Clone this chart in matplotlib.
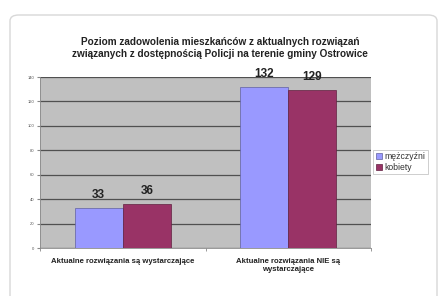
import numpy as np
import matplotlib
matplotlib.use("Agg")
import matplotlib.pyplot as plt
from matplotlib.patches import FancyBboxPatch

plt.rcParams['font.family'] = ['Liberation Sans', 'DejaVu Sans']

############################################
# DATA
############################################

TITLE = ("Poziom zadowolenia mieszkańców z aktualnych rozwiązań\n"
         "związanych z dostępnością Policji na terenie gminy Ostrowice")

categories = ["Aktualne rozwiązania są wystarczające",
              "Aktualne rozwiązania NIE są\nwystarczające"]
series_names = ["mężczyźni", "kobiety"]
men = [33, 132]
women = [36, 129]
yticks = [0, 20, 40, 60, 80, 100, 120, 140]

COLORS = ["#9999FF", "#993366"]

############################################
# PLOT
############################################

fig = plt.figure(figsize=(4.4, 2.96), dpi=100)
fig.patch.set_facecolor("white")

# rounded frame round the chart
frame = FancyBboxPatch((10 / 440, -0.05), 427 / 440, 1 - 15 / 296 + 0.05,
                       boxstyle="round,pad=0,rounding_size=0.02",
                       transform=fig.transFigure, facecolor="white",
                       edgecolor="#d8d8d8", linewidth=1.0, zorder=-10)
fig.patches.append(frame)

ax = fig.add_axes([40 / 440, 1 - 248 / 296, 331 / 440, 171 / 296])
ax.set_facecolor("#C0C0C0")
ax.set_zorder(1)

x = np.arange(len(categories))
w = 0.29
bars1 = ax.bar(x - w / 2, men, w, color=COLORS[0], edgecolor="#6060a0",
               linewidth=0.5, label=series_names[0], zorder=3)
bars2 = ax.bar(x + w / 2, women, w, color=COLORS[1], edgecolor="#602040",
               linewidth=0.5, label=series_names[1], zorder=3)

for bars in (bars1, bars2):
    for b in bars:
        ax.annotate(f"{int(b.get_height())}",
                    (b.get_x() + b.get_width() / 2, b.get_height()),
                    xytext=(0, 5), textcoords="offset points",
                    ha="center", va="bottom", fontsize=8.5,
                    fontweight="bold", color="#222222", clip_on=False)

ax.set_xlim(-0.5, 1.5)
ax.set_ylim(0, 140)
ax.set_yticks(yticks)
ax.set_yticklabels([str(v) for v in yticks], fontsize=3, color="#555555")
ax.yaxis.grid(True, color="#505050", linewidth=0.9, zorder=1)
ax.set_axisbelow(True)

ax.set_xticks(x)
ax.set_xticklabels(categories, fontsize=5.6, fontweight="bold",
                   color="#222222", linespacing=1.3)
ax.tick_params(axis="x", length=0, pad=7)
ax.set_xticks([-0.5, 0.5, 1.5], minor=True)
ax.tick_params(axis="x", which="minor", length=2, color="#888888")
ax.tick_params(axis="y", length=2, color="#888888", pad=2)

for s in ["top", "right"]:
    ax.spines[s].set_visible(False)
ax.spines["left"].set_color("#888888")
ax.spines["bottom"].set_color("#888888")
ax.spines["left"].set_linewidth(0.6)
ax.spines["bottom"].set_linewidth(0.6)

fig.text(0.5, 1 - 48 / 296, TITLE, ha="center", va="center",
         fontsize=7.2, fontweight="bold", color="#222222", linespacing=1.25)

leg = fig.legend(loc="center left", bbox_to_anchor=(373 / 440, 1 - 162 / 296),
                 fontsize=6.2, frameon=True, fancybox=False,
                 handlelength=0.8, handleheight=0.8, handletextpad=0.2,
                 borderpad=0.3, labelspacing=0.2, borderaxespad=0)
leg.get_frame().set_edgecolor("#aaaaaa")
leg.get_frame().set_linewidth(0.5)
for t in leg.get_texts():
    t.set_color("#333333")

plt.savefig("out.png", dpi=100)
plt.close()
